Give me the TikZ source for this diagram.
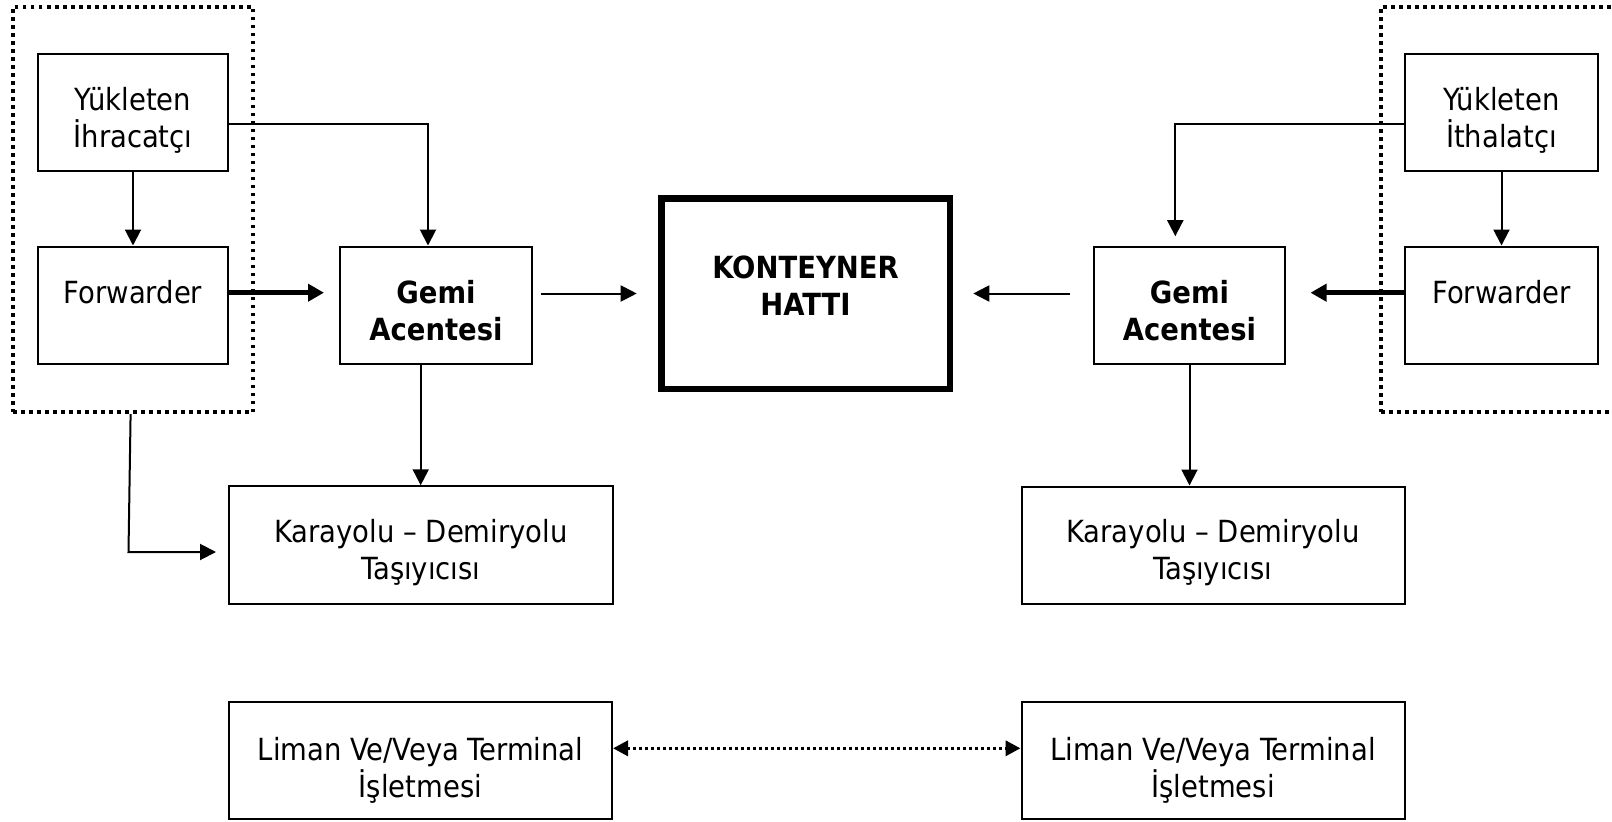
\documentclass[tikz,border=0pt]{standalone}
\usepackage{fontspec}
\IfFontExistsTF{DejaVu Sans Condensed}
  {\setmainfont{DejaVu Sans Condensed}\newcommand\txtsize{30.5}}
  {\setmainfont{DejaVu Sans}\newcommand\txtsize{27.5}}
\usetikzlibrary{arrows.meta}

\begin{document}
\begin{tikzpicture}[x=1pt,y=-1pt,
  txt/.style={font=\fontsize{\txtsize}{37}\selectfont, align=center, inner sep=0pt},
  boldtxt/.style={txt, font=\fontsize{\txtsize}{37}\selectfont\bfseries},
  box/.style={draw, line width=2pt, inner sep=0pt, minimum width=190pt, minimum height=117pt},
  widebox/.style={draw, line width=2pt, inner sep=0pt, minimum width=383pt, minimum height=117pt},
  mainbox/.style={draw, line width=6.5pt, inner sep=0pt, minimum width=288.5pt, minimum height=190.5pt},
  group/.style={draw, line width=4pt, dash pattern=on 3.5pt off 4.5pt, inner sep=0pt, minimum height=405.5pt},
  arr/.style={line width=2pt, -{Triangle[length=16pt,width=16pt]}},
  thickarr/.style={line width=4.5pt, -{Triangle[length=16pt,width=17pt]}},
  dotarr/.style={line width=3.5pt, dash pattern=on 3pt off 3pt,
    {Triangle[length=15pt,width=15pt]}-{Triangle[length=15pt,width=15pt]}},
]
\clip (0,0) rectangle (1612,822);
\fill[white] (0,0) rectangle (1612,822);

% dotted frames round the shipper side and the consignee side
\node[group, minimum width=240pt] (exg) at (133,209.3) {};
\node[group, minimum width=280pt] (img) at (1521,209.3) {};

% boxes
\node[box] (yi) at (133,112.7) {};
\node[box] (fl) at (133,305) {};
\node[box, minimum width=192pt] (gl) at (436,305) {};
\node[mainbox] (kh) at (805.5,293.5) {};
\node[box, minimum width=191pt] (gr) at (1189.5,305) {};
\node[box, minimum width=193pt] (yt) at (1501.5,112.7) {};
\node[box, minimum width=193pt] (fr) at (1501.5,305) {};
\node[widebox, minimum width=384pt, minimum height=117.5pt] (kl) at (421,545) {};
\node[widebox] (kr) at (1213,545) {};
\node[widebox] (ll) at (420.5,760.5) {};
\node[widebox] (lr) at (1213,760.5) {};

% box texts
\node[txt] (yi-t) at ([yshift=-8pt]yi.center) {Yükleten\\İhracatçı};
\node[txt] (fl-t) at ([yshift=13pt]fl.center) {Forwarder};
\node[boldtxt] (gl-t) at ([yshift=-6pt]gl.center) {Gemi\\Acentesi};
\node[boldtxt] (kh-t) at ([yshift=8pt]kh.center) {KONTEYNER\\HATTI};
\node[boldtxt] (gr-t) at ([yshift=-6pt]gr.center) {Gemi\\Acentesi};
\node[txt] (yt-t) at ([yshift=-8pt]yt.center) {Yükleten\\İthalatçı};
\node[txt] (fr-t) at ([yshift=13pt]fr.center) {Forwarder};
\node[txt] (kl-t) at ([yshift=-8pt]kl.center) {Karayolu – Demiryolu\\Taşıyıcısı};
\node[txt] (kr-t) at ([yshift=-8pt]kr.center) {Karayolu – Demiryolu\\Taşıyıcısı};
\node[txt] (ll-t) at ([yshift=-10pt]ll.center) {Liman Ve/Veya Terminal\\İşletmesi};
\node[txt] (lr-t) at ([yshift=-10pt]lr.center) {Liman Ve/Veya Terminal\\İşletmesi};

% exporter side
\draw[arr] (yi.south) -- (fl.north);
\draw[arr] ([yshift=-11.6pt]yi.east) -| ([xshift=-8pt]gl.north);
\draw[thickarr] ([yshift=12.3pt]fl.east) -- ([xshift=-15pt,yshift=12.3pt]gl.west);
\draw[arr] ([xshift=8pt]gl.east |- kh.west) -- ([xshift=-21.3pt]kh.west);
\draw[arr] ([xshift=-15.3pt]gl.south) -- ([xshift=-15.3pt]gl.south |- kl.north);
\draw[arr] ([xshift=-2.4pt]exg.south) -- ([xshift=-4.5pt,yshift=-7pt]exg.south |- kl.west)
  -- ([xshift=-12pt,yshift=-7pt]kl.west);

% importer side
\draw[arr] (yt.south) -- (fr.north);
\draw[arr] ([yshift=-11.6pt]yt.west) -| ([xshift=-14.2pt,yshift=9.3pt]gr.north);
\draw[thickarr] ([yshift=12.3pt]fr.west) -- ([xshift=24.5pt,yshift=12.3pt]gr.east);
\draw[arr] ([xshift=-23pt]gr.west |- kh.east) -- ([xshift=20.3pt]kh.east);
\draw[arr] (gr.south) -- (gr.south |- kr.north);

% ports
\draw[dotarr] ([yshift=12.2pt]ll.east) -- ([yshift=12.2pt]lr.west);
\end{tikzpicture}
\end{document}
